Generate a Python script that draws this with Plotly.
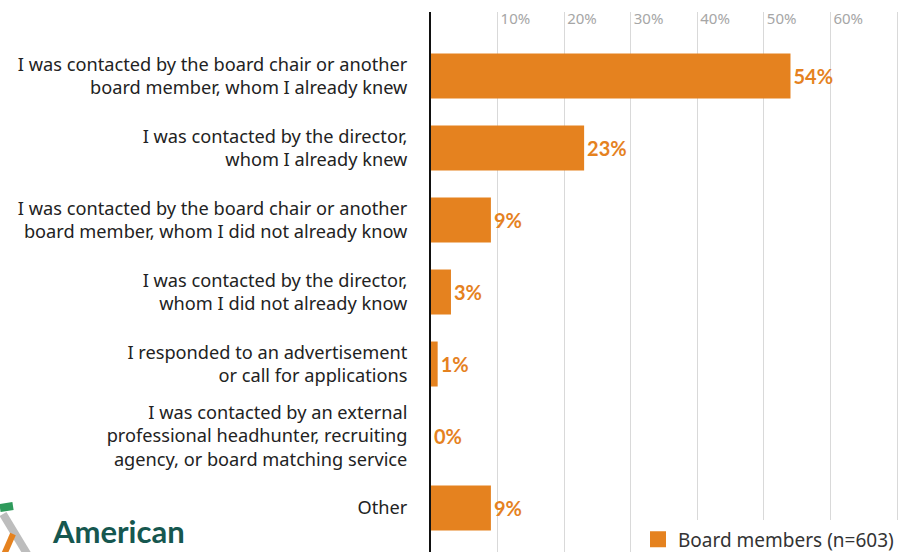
import plotly.graph_objects as go

# Survey responses: how board members were recruited
categories = [
    "I was contacted by the board chair or another<br>board member, whom I already knew",
    "I was contacted by the director,<br>whom I already knew",
    "I was contacted by the board chair or another<br>board member, whom I did not already know",
    "I was contacted by the director,<br>whom I did not already know",
    "I responded to an advertisement<br>or call for applications",
    "I was contacted by an external<br>professional headhunter, recruiting<br>agency, or board matching service",
    "Other",
]
values = [54, 23, 9, 3, 1, 0, 9]
tick_vals = [10, 20, 30, 40, 50, 60, 70]
tick_text = ["10%", "20%", "30%", "40%", "50%", "60%", ""]
series_name = "Board members (n=603)"

ORANGE = "#E5821F"
TEAL = "#16574F"

fig = go.Figure()
fig.add_trace(go.Bar(
    x=values,
    y=categories,
    orientation="h",
    marker=dict(color=ORANGE, line=dict(width=0)),
    text=[f"{v}%" for v in values],
    textposition="outside",
    textfont=dict(family="Lato", size=20, color=ORANGE, weight="bold"),
    cliponaxis=False,
    showlegend=False,
    hoverinfo="skip",
))
# legend swatch
fig.add_trace(go.Scatter(
    x=[None], y=[None], mode="markers", name=series_name,
    marker=dict(symbol="square", size=18, color=ORANGE),
))

fig.update_layout(
    width=899, height=552,
    margin=dict(l=431, r=0, t=12, b=0, autoexpand=False),
    paper_bgcolor="white",
    plot_bgcolor="white",
    bargap=0.375,
    font=dict(family="Noto Sans", color="#222222"),
    xaxis=dict(
        side="top",
        range=[0, 70.3],
        tickvals=tick_vals,
        ticktext=tick_text,
        ticklabelposition="inside right",
        ticklabelstandoff=-5,
        ticklabelshift=3,
        tickfont=dict(family="Noto Sans", size=15, color="#A6A6A6"),
        showgrid=True,
        gridcolor="#D9D9D9",
        gridwidth=1,
        zeroline=False,
        showline=False,
        ticks="",
    ),
    yaxis=dict(
        autorange=False,
        range=[6.611, -0.889],
        showline=True,
        linecolor="#111111",
        linewidth=2,
        ticks="",
        ticklabelstandoff=18,
        tickfont=dict(family="Noto Sans", size=18.2, color="#222222"),
        showgrid=False,
        zeroline=False,
    ),
    legend=dict(
        x=1, y=-0.012, xanchor="right", yanchor="bottom",
        bgcolor="white",
        font=dict(family="Noto Sans", size=19, color="#333333"),
        itemwidth=30,
        borderwidth=0,
    ),
)

# organisation logo mark and name
fig.add_shape(type="line", xref="paper", yref="paper", x0=-428/468, y0=38/540, x1=-402/468, y1=-5/540,
              line=dict(color="#BDBDBD", width=8))
fig.add_shape(type="line", xref="paper", yref="paper", x0=-428/468, y0=-5/540, x1=-418/468, y1=18/540,
              line=dict(color="#E5821F", width=6))
fig.add_shape(type="line", xref="paper", yref="paper", x0=-431/468, y0=44/540, x1=-418/468, y1=46/540,
              line=dict(color="#2E9A5B", width=8))
fig.add_annotation(
    text="<b>American</b>", xref="paper", yref="paper",
    x=-381/468, y=0, xanchor="left", yanchor="bottom",
    showarrow=False, font=dict(family="Lato", size=31, color=TEAL),
)

fig.write_html("out.html")
